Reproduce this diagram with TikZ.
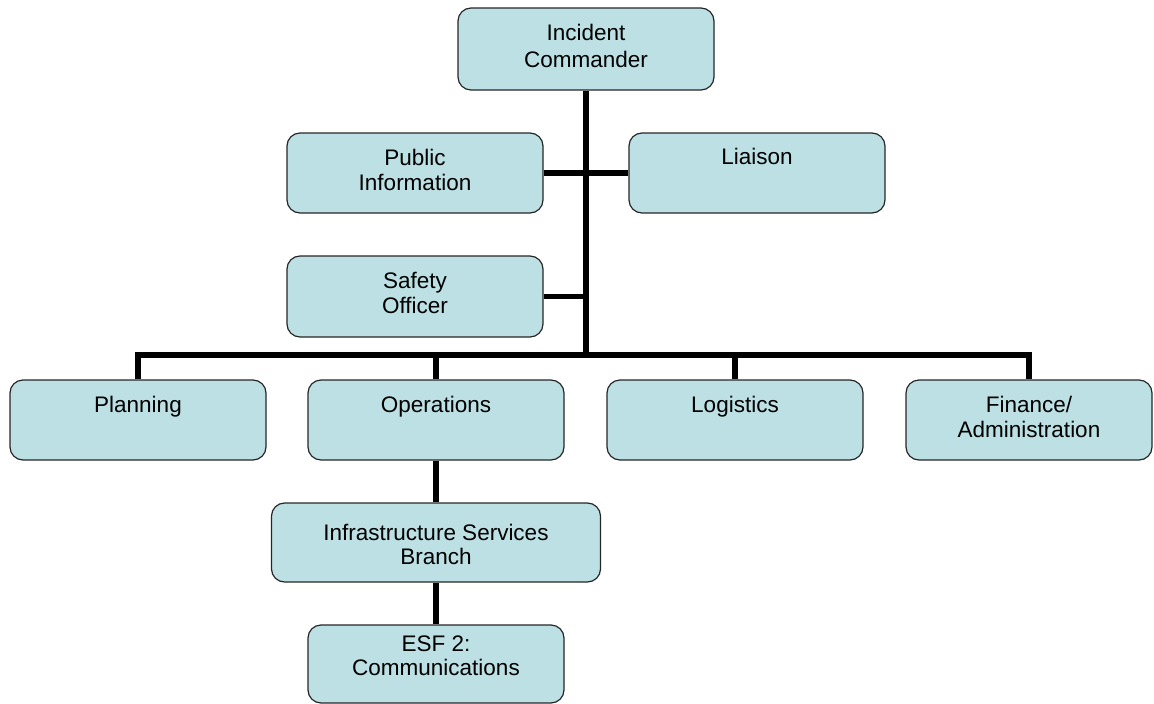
\documentclass[tikz,border=0pt]{standalone}
\usepackage{fontspec}
\setmainfont{Liberation Sans}
\usetikzlibrary{positioning}

\definecolor{boxfill}{RGB}{188,224,227}

\tikzset{
  unit/.style={draw=black!85, line width=1.2pt, rounded corners=13pt,
    fill=boxfill, minimum width=256pt, minimum height=80pt, inner sep=0pt},
  title/.style={align=center, inner sep=0pt,
    font=\fontsize{22.5}{25}\selectfont},
  link/.style={line width=5.5pt}
}

\begin{document}
\begin{tikzpicture}[x=1pt, y=-1pt]
  \useasboundingbox (0,0) rectangle (1154,704);

  % command staff
  \node[unit, minimum height=82pt] (ic) at (586,49) {};
  \node[title, below=17pt of ic.north, font=\fontsize{22.5}{26.5}\selectfont]
    (ic-t) {Incident\\Commander};
  \node[unit, minimum height=80pt] (pubinfo) at (415,173) {};
  \node[title, below=17pt of pubinfo.north] (pubinfo-t) {Public\\Information};
  \node[unit, minimum height=80pt] (liaison) at (757,173) {};
  \node[title, below=16pt of liaison.north] (liaison-t) {Liaison};
  \node[unit, minimum height=81pt] (safety) at (415,296.5) {};
  \node[title, below=17pt of safety.north] (safety-t) {Safety\\Officer};

  % general staff
  \node[unit] (planning) at (138,420) {};
  \node[title, below=17pt of planning.north] (planning-t) {Planning};
  \node[unit] (ops) at (436,420) {};
  \node[title, below=17pt of ops.north] (ops-t) {Operations};
  \node[unit] (logistics) at (735,420) {};
  \node[title, below=17pt of logistics.north] (logistics-t) {Logistics};
  \node[unit, minimum width=246pt] (finance) at (1029,420) {};
  \node[title, below=17pt of finance.north] (finance-t) {Finance/\\Administration};

  % operations section
  \node[unit, minimum width=329pt, minimum height=79pt] (infra) at (436,542.5) {};
  \node[title, below=22pt of infra.north, font=\fontsize{22.5}{24}\selectfont]
    (infra-t) {Infrastructure Services\\Branch};
  \node[unit, minimum height=78pt] (esf) at (436,664) {};
  \node[title, below=11pt of esf.north, font=\fontsize{22.5}{24}\selectfont]
    (esf-t) {ESF 2:\\Communications};

  % reporting lines
  \coordinate (bus) at (586,355);
  \draw[link] (ic.south) -- (bus);
  \draw[link] (pubinfo.east) -- (liaison.west);
  \draw[link] (safety.east) -- (safety.east -| bus);
  \draw[link] (planning.north) -- (planning.north |- bus)
    -- (finance.north |- bus) -- (finance.north);
  \foreach \n in {ops,logistics}
    \draw[link] (\n.north) -- (\n.north |- bus);
  \draw[link] (ops.south) -- (infra.north);
  \draw[link] (infra.south) -- (esf.north);
\end{tikzpicture}
\end{document}
